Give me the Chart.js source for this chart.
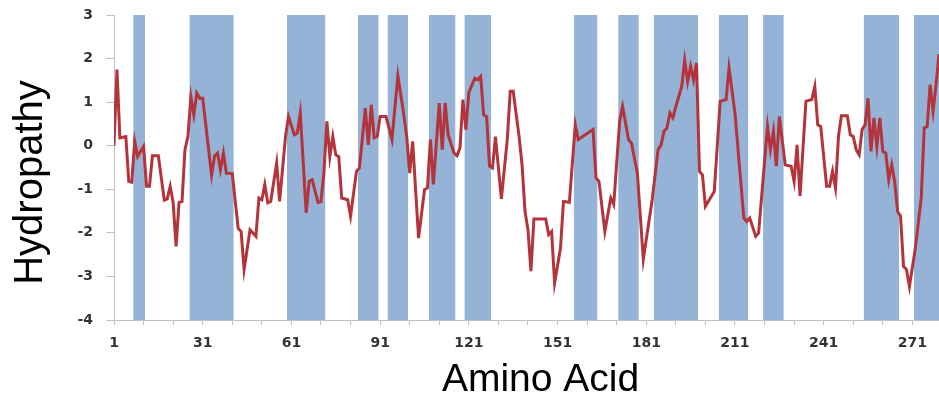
<!DOCTYPE html>
<html>
<head>
<meta charset="utf-8">
<script src="https://cdn.jsdelivr.net/npm/chart.js@4/dist/chart.umd.min.js"></script>
<style>
  html, body { margin: 0; padding: 0; background: #fff; }
  #wrap { width: 939px; height: 403px; }
</style>
</head>
<body>
<div id="wrap"><canvas id="grafico"></canvas></div>
<script>
// Datos (residuo, hidropatia)
var residues = [1,2,3,5,6,7,8,9,10,11,12,13,14,16,18,19,20,21,22,23,24,25,26,27,28,29,30,31,
  34,35,36,37,38,39,41,43,44,45,47,49,50,51,52,53,54,56,57,59,60,62,63,64,66,67,68,70,71,72,73,
  74,75,76,77,78,80,81,83,84,86,87,88,89,90,91,93,95,97,99,100,101,102,104,106,107,108,109,111,
  112,113,114,116,117,118,119,120,121,123,124,125,126,127,128,129,130,132,134,135,136,138,139,
  140,141,142,143,147,148,149,150,152,153,155,157,158,163,164,165,167,169,170,172,173,175,176,
  178,180,183,185,186,187,188,189,190,191,193,194,195,196,197,198,199,200,201,204,206,208,209,
  211,214,215,216,218,219,222,223,224,225,226,228,230,231,232,233,235,237,238,239,240,242,243,
  244,245,246,247,249,250,251,252,253,254,255,256,257,258,259,260,261,262,263,264,265,266,267,
  268,269,270,272,274,275,276,277,278,279,280];
var hydropathy = [0,1.75,0.18,0.21,-0.82,-0.84,0.1,-0.25,-0.13,-0.02,-0.93,-0.93,-0.23,-0.23,
  -1.25,-1.22,-0.93,-1.3,-2.31,-1.3,-1.28,-0.09,0.21,1.12,0.71,1.21,1.09,1.09,
  -0.67,-0.24,-0.17,-0.55,-0.17,-0.63,-0.64,-1.9,-1.97,-2.84,-1.93,-2.08,-1.2,-1.24,-0.89,-1.31,
  -1.28,-0.4,-1.28,0.21,0.67,0.25,0.29,0.75,-1.54,-0.82,-0.78,-1.3,-1.28,-0.6,0.56,
  -0.25,0.21,-0.21,-0.25,-1.2,-1.24,-1.62,-0.59,-0.51,0.86,0.02,0.94,0.18,0.21,0.67,0.67,0.14,
  1.61,0.71,0.2,-0.63,0.1,-2.12,-1.01,-0.97,0.14,-0.89,0.98,
  -0.09,0.98,0.25,-0.17,-0.23,-0.05,1.06,0.37,1.22,1.55,1.51,1.59,0.71,0.67,-0.47,-0.51,0.21,
  -1.22,0.14,1.25,1.25,0.21,-0.44,
  -1.51,-1.93,-2.88,-1.68,-1.68,-2.04,-1.97,-3.15,-2.35,-1.28,-1.3,0.48,0.14,0.37,-0.74,-0.82,
  -1.97,-1.2,-1.35,0.56,0.9,0.14,0.06,
  -0.63,-2.61,-1.24,-0.09,0.02,0.33,0.41,0.75,0.64,0.9,1.36,1.96,1.47,1.82,1.51,1.9,-0.59,-0.67,
  -1.39,-1.05,1.02,1.06,1.78,
  0.75,-1.66,-1.74,-1.66,-2.08,-2.0,0.44,-0.09,0.33,-0.47,0.67,-0.44,-0.47,-0.82,0.02,-1.16,1.02,
  1.06,1.36,0.48,0.44,-0.93,-0.93,
  -0.59,-0.97,0.21,0.69,0.69,0.25,0.21,-0.09,-0.21,0.37,0.48,1.09,-0.13,0.64,-0.02,0.64,-0.13,
  -0.17,-0.78,-0.44,-0.82,-1.51,-1.62,
  -2.77,-2.84,-3.23,-2.35,-1.2,0.41,0.44,1.4,0.79,1.4,2.1];

// Regiones sombreadas (primer y ultimo residuo)
var bandStart = [8,27,60,84,94,108,120,157,172,184,206,221,255,272];
var bandEnd   = [11,41,72,90,100,116,128,164,178,198,215,227,266,280];

// Marcas del eje x y etiquetas
var xTicks = [1,11,21,31,41,51,61,71,81,91,101,111,121,131,141,151,161,171,181,191,201,211,221,231,241,251,261,271];
var xLabels = [1,31,61,91,121,151,181,211,241,271];
var yTicks = [3,2,1,0,-1,-2,-3,-4];

var lineData = [];
for (var i = 0; i < residues.length; i++) {
    lineData.push({ x: residues[i], y: hydropathy[i] });
}

var datasets = [{
    label: 'Hydropathy',
    data: lineData,
    borderColor: '#b3343a',
    borderWidth: 3,
    pointRadius: 0,
    tension: 0,
    fill: false
}];

// cada banda es un area rellena desde 3 hasta -4
for (var b = 0; b < bandStart.length; b++) {
    datasets.push({
        label: 'band' + b,
        data: [{ x: bandStart[b] - 0.5, y: 3 }, { x: bandEnd[b] + 0.5, y: 3 }],
        borderWidth: 0,
        pointRadius: 0,
        backgroundColor: '#95b3d7',
        fill: { value: -4 }
    });
}

// titulos de los ejes, algo desplazados como en la figura original
var axisTitles = {
    id: 'axisTitles',
    afterDraw: function (chart) {
        var c = chart.ctx;
        var area = chart.chartArea;
        c.save();
        c.fillStyle = '#000';
        c.textAlign = 'center';
        c.textBaseline = 'alphabetic';
        c.font = '39px "Liberation Sans"';
        c.fillText('Amino Acid', (area.left + area.right) / 2 + 14, area.bottom + 71);
        c.translate(42, (area.top + area.bottom) / 2 + 15);
        c.rotate(-Math.PI / 2);
        c.font = '40px "Liberation Sans"';
        c.fillText('Hydropathy', 0, 0);
        c.restore();
    }
};

var tickFont = { family: 'DejaVu Sans', size: 14, weight: 'bold' };

var ctx = document.getElementById('grafico').getContext('2d');
window.myChart = new Chart(ctx, {
    type: 'line',
    data: { datasets: datasets },
    plugins: [axisTitles],
    options: {
        responsive: true,
        maintainAspectRatio: false,
        animation: false,
        layout: { padding: { top: 15, right: 0, bottom: 0, left: 0 } },
        plugins: {
            legend: { display: false },
            tooltip: { enabled: false }
        },
        scales: {
            x: {
                type: 'linear',
                min: 1,
                max: 280,
                afterBuildTicks: function (scale) {
                    scale.ticks = xTicks.map(function (v) { return { value: v }; });
                },
                afterFit: function (scale) { scale.height = 83; },
                grid: { drawOnChartArea: false, color: '#bfbfbf', tickLength: 5 },
                border: { color: '#bfbfbf', width: 1 },
                ticks: {
                    autoSkip: false,
                    maxRotation: 0,
                    padding: 10,
                    color: '#333',
                    font: tickFont,
                    callback: function (v) { return xLabels.indexOf(v) >= 0 ? String(v) : ''; }
                }
            },
            y: {
                min: -4,
                max: 3,
                afterBuildTicks: function (scale) {
                    scale.ticks = yTicks.map(function (v) { return { value: v }; });
                },
                afterFit: function (scale) {
                    scale.width = 114;
                    scale.paddingTop = 0;
                    scale.paddingBottom = 0;
                },
                grid: { drawOnChartArea: false, color: '#bfbfbf', tickLength: 8 },
                border: { color: '#bfbfbf', width: 1 },
                ticks: {
                    padding: 13,
                    color: '#333',
                    font: tickFont
                }
            }
        }
    }
});
</script>
</body>
</html>
